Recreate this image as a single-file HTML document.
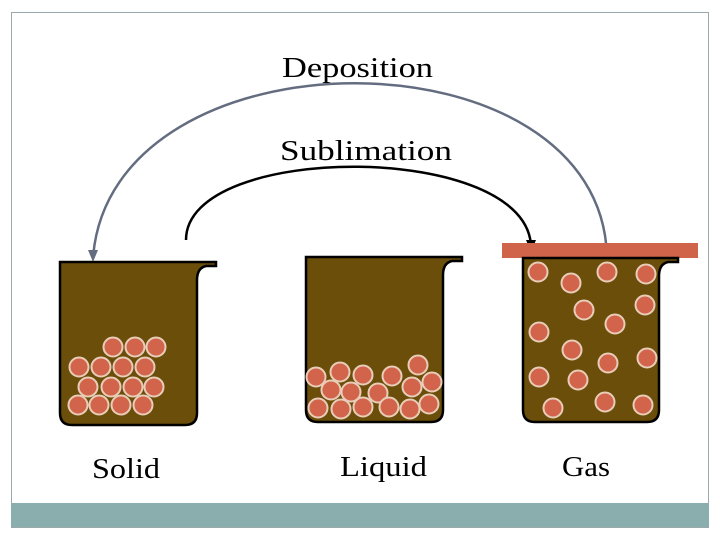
<!DOCTYPE html>
<html><head><meta charset="utf-8"><style>
html,body{margin:0;padding:0;background:#fff;}
svg{display:block;}
text{font-family:"Liberation Serif",serif;font-size:29px;fill:#000;}
</style></head><body>
<svg width="720" height="540" viewBox="0 0 720 540">
<rect x="11.5" y="12.5" width="697" height="515" fill="none" stroke="#9aaaaa" stroke-width="1"/>
<rect x="11" y="503" width="698" height="24" fill="#8aaeae"/>
<!-- Deposition arc -->
<path d="M607,258 C603,25 110,25 93,258" fill="none" stroke="#646d80" stroke-width="2.5"/>
<path d="M88,250 L93,262 L98,250 Z" fill="#646d80"/>
<!-- Sublimation arc -->
<path d="M186,240 C186,141 531,141 531,248" fill="none" stroke="#000" stroke-width="2.5"/>
<path d="M526,240 L531,252 L536,240 Z" fill="#000"/>
<text x="282" y="77" textLength="151" lengthAdjust="spacingAndGlyphs">Deposition</text>
<text x="280" y="160" textLength="172" lengthAdjust="spacingAndGlyphs">Sublimation</text>
<!-- lid -->
<rect x="502" y="243" width="196" height="15" fill="#d0644b"/>
<!-- beakers -->
<g fill="#6b4e0a" stroke="#000" stroke-width="2.5">
<path d="M60,262 L216,262 L216,266 L206,266 Q197,268 197,280 L197,413 Q197,425 185,425 L72,425 Q60,425 60,413 Z"/>
<path d="M306,257 L462,257 L462,261 L452,261 Q443,263 443,275 L443,410 Q443,422 431,422 L318,422 Q306,422 306,410 Z"/>
<path d="M523,258 L678,258 L678,262 L668,262 Q659,264 659,276 L659,410 Q659,422 647,422 L535,422 Q523,422 523,410 Z"/>
</g>
<g fill="#d2644b" stroke="#e8cdb8" stroke-width="2">
<circle cx="113" cy="347" r="9.5"/><circle cx="135" cy="347" r="9.5"/><circle cx="156" cy="347" r="9.5"/>
<circle cx="79" cy="367" r="9.5"/><circle cx="101" cy="367" r="9.5"/><circle cx="123" cy="367" r="9.5"/><circle cx="145" cy="367" r="9.5"/>
<circle cx="88" cy="387" r="9.5"/><circle cx="111" cy="387" r="9.5"/><circle cx="133" cy="387" r="9.5"/><circle cx="154" cy="387" r="9.5"/>
<circle cx="78" cy="405" r="9.5"/><circle cx="99" cy="405" r="9.5"/><circle cx="121" cy="405" r="9.5"/><circle cx="143" cy="405" r="9.5"/>

<circle cx="316" cy="377" r="9.5"/><circle cx="340" cy="372" r="9.5"/><circle cx="363" cy="375" r="9.5"/><circle cx="392" cy="376" r="9.5"/><circle cx="418" cy="365" r="9.5"/>
<circle cx="331" cy="390" r="9.5"/><circle cx="351" cy="392" r="9.5"/><circle cx="378" cy="393" r="9.5"/><circle cx="412" cy="387" r="9.5"/><circle cx="432" cy="382" r="9.5"/>
<circle cx="318" cy="408" r="9.5"/><circle cx="341" cy="409" r="9.5"/><circle cx="363" cy="407" r="9.5"/><circle cx="389" cy="407" r="9.5"/><circle cx="410" cy="409" r="9.5"/><circle cx="429" cy="404" r="9.5"/>

<circle cx="538" cy="272" r="9.5"/><circle cx="571" cy="283" r="9.5"/><circle cx="607" cy="272" r="9.5"/><circle cx="646" cy="274" r="9.5"/>
<circle cx="584" cy="310" r="9.5"/><circle cx="645" cy="305" r="9.5"/><circle cx="615" cy="324" r="9.5"/><circle cx="539" cy="332" r="9.5"/>
<circle cx="572" cy="350" r="9.5"/><circle cx="608" cy="363" r="9.5"/><circle cx="647" cy="358" r="9.5"/><circle cx="539" cy="377" r="9.5"/>
<circle cx="578" cy="380" r="9.5"/><circle cx="553" cy="408" r="9.5"/><circle cx="605" cy="402" r="9.5"/><circle cx="643" cy="405" r="9.5"/>
</g>
<text x="92" y="478" textLength="68" lengthAdjust="spacingAndGlyphs">Solid</text>
<text x="340" y="476" textLength="87" lengthAdjust="spacingAndGlyphs">Liquid</text>
<text x="562" y="476" textLength="48" lengthAdjust="spacingAndGlyphs">Gas</text>
</svg>
</body></html>
